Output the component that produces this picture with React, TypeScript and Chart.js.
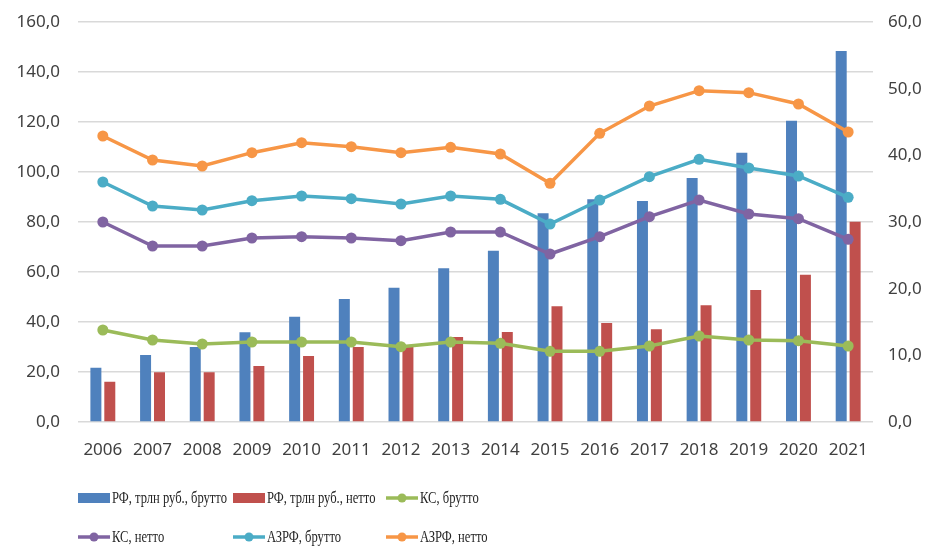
import React, { useEffect, useRef } from "react";
import { Chart, registerables } from "chart.js";

Chart.register(...registerables);

const years = ["2006","2007","2008","2009","2010","2011","2012","2013","2014","2015","2016","2017","2018","2019","2020","2021"];
const rfGross = [21.7, 26.8, 30.0, 35.9, 42.1, 49.2, 53.7, 61.5, 68.5, 83.5, 89.1, 88.4, 97.6, 107.7, 120.5, 148.4];
const rfNet = [16.1, 19.9, 19.9, 22.4, 26.4, 30.0, 30.3, 34.0, 36.0, 46.3, 39.6, 37.1, 46.7, 52.8, 58.9, 80.1];
const ksGross = [13.8, 12.3, 11.7, 12.0, 12.0, 12.0, 11.3, 12.0, 11.8, 10.6, 10.6, 11.4, 12.9, 12.3, 12.2, 11.4];
const ksNet = [30.0, 26.4, 26.4, 27.6, 27.8, 27.6, 27.2, 28.5, 28.5, 25.2, 27.8, 30.8, 33.3, 31.2, 30.5, 27.4];
const azrfGross = [36.0, 32.4, 31.8, 33.2, 33.9, 33.5, 32.7, 33.9, 33.4, 29.7, 33.3, 36.8, 39.4, 38.1, 36.9, 33.7];
const azrfNet = [42.9, 39.3, 38.4, 40.4, 41.9, 41.3, 40.4, 41.2, 40.2, 35.8, 43.3, 47.4, 49.7, 49.4, 47.7, 43.5];

const labels = {
  rfGross: "РФ, трлн руб., брутто",
  rfNet: "РФ, трлн руб., нетто",
  ksGross: "КС, брутто",
  ksNet: "КС, нетто",
  azrfGross: "АЗРФ, брутто",
  azrfNet: "АЗРФ, нетто",
};

const fmt = (v: number) => Number(v).toFixed(1).replace(".", ",");

const legendPlugin = {
  id: "gridLegend",
  afterDraw(chart: any) {
    const ctx = chart.ctx;
    const cols = [78, 233, 386];
    const rows = [498, 537];
    chart.data.datasets.forEach((ds: any, i: number) => {
      const x = cols[i % 3];
      const y = rows[Math.floor(i / 3)];
      ctx.save();
      if (ds.type === "bar") {
        ctx.fillStyle = ds.backgroundColor;
        ctx.fillRect(x, y - 5, 32, 10);
      } else {
        ctx.strokeStyle = ds.borderColor;
        ctx.lineWidth = 3.5;
        ctx.beginPath();
        ctx.moveTo(x, y);
        ctx.lineTo(x + 32, y);
        ctx.stroke();
        ctx.fillStyle = ds.borderColor;
        ctx.beginPath();
        ctx.arc(x + 16, y, 4.5, 0, Math.PI * 2);
        ctx.fill();
      }
      ctx.translate(x + 34, y);
      ctx.scale(0.74, 1);
      ctx.fillStyle = "#262626";
      ctx.font = "17px 'Liberation Serif'";
      ctx.textBaseline = "middle";
      ctx.textAlign = "left";
      ctx.fillText(ds.label, 0, 1);
      ctx.restore();
    });
  },
};

export default function App() {
  const ref = useRef<HTMLCanvasElement | null>(null);
  useEffect(() => {
    document.body.style.margin = "0";
    const lineDs = (label: string, data: number[], color: string) => ({
      type: "line" as const,
      label,
      data,
      yAxisID: "y1",
      borderColor: color,
      backgroundColor: color,
      borderWidth: 3.5,
      pointRadius: 5.5,
      pointBackgroundColor: color,
      pointBorderColor: color,
      pointBorderWidth: 0,
      tension: 0,
      order: 0,
    });
    const chart = new Chart(ref.current as HTMLCanvasElement, {
      type: "bar",
      data: {
        labels: years,
        datasets: [
          { type: "bar", label: labels.rfGross, data: rfGross, backgroundColor: "#4F81BD", yAxisID: "y", order: 1, categoryPercentage: 0.56, barPercentage: 0.79 },
          { type: "bar", label: labels.rfNet, data: rfNet, backgroundColor: "#C0504D", yAxisID: "y", order: 1, categoryPercentage: 0.56, barPercentage: 0.79 },
          lineDs(labels.ksGross, ksGross, "#9BBB59"),
          lineDs(labels.ksNet, ksNet, "#8064A2"),
          lineDs(labels.azrfGross, azrfGross, "#4BACC6"),
          lineDs(labels.azrfNet, azrfNet, "#F79646"),
        ] as any,
      },
      options: {
        animation: false,
        responsive: false,
        layout: { padding: { top: 22, left: 0, right: 0, bottom: 0 } },
        plugins: { legend: { display: false }, tooltip: { enabled: false } },
        scales: {
          x: {
            grid: { display: false },
            border: { display: false },
            ticks: { color: "#404040", font: { family: "'Noto Sans'", size: 17 }, autoSkip: false, maxRotation: 0, padding: 10 },
            afterFit: (s: any) => { s.height = 124; },
          },
          y: {
            position: "left",
            min: 0,
            max: 160,
            grid: { color: "#D9D9D9", lineWidth: 1.5, drawTicks: true, tickLength: 18, tickColor: "rgba(0,0,0,0)" },
            border: { display: false },
            ticks: { stepSize: 20, color: "#404040", font: { family: "'Noto Sans'", size: 17 }, padding: 0, callback: (v: any) => fmt(v) },
            afterFit: (s: any) => { s.width = 78; },
          },
          y1: {
            position: "right",
            min: 0,
            max: 60,
            grid: { display: false, drawTicks: true, tickLength: 15, tickColor: "rgba(0,0,0,0)" },
            border: { display: false },
            ticks: { stepSize: 10, color: "#404040", font: { family: "'Noto Sans'", size: 17 }, padding: 0, callback: (v: any) => fmt(v) },
            afterFit: (s: any) => { s.width = 59; },
          },
        },
      } as any,
      plugins: [legendPlugin],
    });
    return () => chart.destroy();
  }, []);
  return <canvas ref={ref} width={932} height={546} style={{ display: "block" }} />;
}
